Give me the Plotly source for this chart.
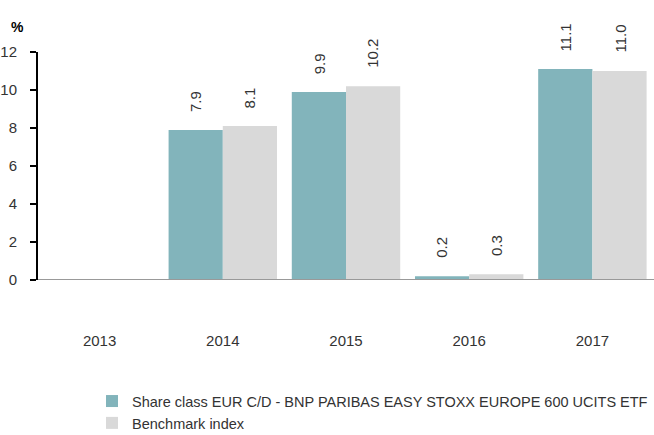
import plotly.graph_objects as go

years = ["2013", "2014", "2015", "2016", "2017"]
share_class = [None, 7.9, 9.9, 0.2, 11.1]
benchmark = [None, 8.1, 10.2, 0.3, 11.0]
series_names = ["Share class EUR C/D - BNP PARIBAS EASY STOXX EUROPE 600 UCITS ETF", "Benchmark index"]
colors = ["#82b4bb", "#d9d9d9"]

FONT = "Liberation Sans, Arial, sans-serif"

fig = go.Figure()
for name, vals, col in zip(series_names, [share_class, benchmark], colors):
    fig.add_trace(go.Bar(x=years, y=vals, name=name, marker=dict(color=col, line=dict(width=0)),
                         offsetgroup=name))

annotations = []
offsets = [-0.22, 0.22]
for off, vals in zip(offsets, [share_class, benchmark]):
    for i, v in enumerate(vals):
        if v is None:
            continue
        annotations.append(dict(x=i + off, y=v, xref="x", yref="y", text=f"{v:.1f}",
                                textangle=-90, showarrow=False, yanchor="bottom",
                                yshift=16, font=dict(size=15, color="#333333", family=FONT)))
annotations.append(dict(x=-0.034, y=1.11, xref="paper", yref="paper", xanchor="center", yanchor="middle",
                        text="<b>%</b>", showarrow=False,
                        font=dict(size=14, color="#000000", family=FONT)))

fig.update_layout(
    width=654, height=435,
    margin=dict(l=38, r=0, t=52, b=155, autoexpand=False),
    paper_bgcolor="white", plot_bgcolor="white",
    barmode="group", bargap=0.12, bargroupgap=0,
    font=dict(family=FONT, size=15, color="#333333"),
    annotations=annotations,
    showlegend=True,
    legend=dict(orientation="v", x=0.0877, y=-0.461, xanchor="left", yanchor="top",
                font=dict(size=14.5, color="#333333", family=FONT), tracegroupgap=0,
                itemwidth=30, bgcolor="rgba(0,0,0,0)"),
    xaxis=dict(showline=False, showgrid=False, ticks="", ticklabelstandoff=50,
               tickfont=dict(size=15, color="#333333")),
    yaxis=dict(range=[0, 12], dtick=2, showgrid=False, showline=True, linecolor="#000000",
               linewidth=2, ticks="outside", ticklen=6, tickwidth=2, tickcolor="#000000",
               ticklabelstandoff=10,
               zeroline=False, tickfont=dict(size=15, color="#333333")),
    shapes=[dict(type="line", xref="paper", yref="y", x0=0, x1=1, y0=0, y1=0,
                 line=dict(color="#999999", width=2))],
)

fig.write_html("out.html")
